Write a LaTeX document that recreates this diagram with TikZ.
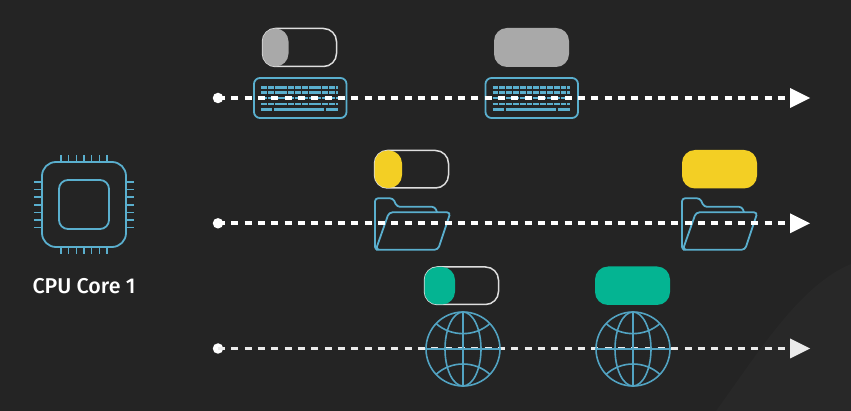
\documentclass[tikz,border=0pt]{standalone}
\usepackage{fontspec}
\setmainfont{Fira Sans}[UprightFont={* Medium}]
\definecolor{bg}{HTML}{242424}
\definecolor{bgl}{HTML}{282828}
\definecolor{ico}{HTML}{5AAFCE}
\definecolor{globec}{HTML}{52A3C2}
\definecolor{grayk}{HTML}{A9A9A9}
\definecolor{yel}{HTML}{F3CF24}
\definecolor{grn}{HTML}{04B492}
\definecolor{rim}{HTML}{DEDEDE}
\tikzset{
  x=1pt,y=-1pt,
  icon/.style={draw=ico,line width=1.8pt,line join=round},
  thinicon/.style={draw=ico,line width=1.6pt},
  globeline/.style={draw=globec,line width=1.6pt},
  timeline/.style={draw=white,line width=3.6pt,dash pattern=on 7pt off 6.33pt},
  startdot/.style={circle,fill=white,inner sep=0pt,minimum size=10.5pt},
  tiptri/.style={fill=white},
  toggle/.style={draw=rim,line width=1.5pt,rounded corners=13pt},
  keyrow/.style={draw=ico,line width=2.7pt},
  pics/keyboard/.style={code={
    \draw[icon,rounded corners=6pt] (0,0) rectangle (92.5,40);
    \foreach \y in {9.7,14.7,20,26}{
      \draw[keyrow,dash pattern=on 5.9pt off 0.9pt] (7,\y) -- (84,\y);}
    \draw[keyrow] (7,31.3) -- (18,31.3) (20,31.3) -- (70,31.3) (72,31.3) -- (84,31.3);
  }},
  pics/folder/.style={code={
    \draw[icon,rounded corners=3pt] (1,51.5) -- (0,51.5) -- (0,0) -- (18,0) -- (22,8.5) -- (60,8.5) -- (62,14);
    \draw[icon,rounded corners=3.5pt] (0.8,51.5) -- (14,14) -- (75.5,14) -- (63,51.5) -- cycle;
  }},
  pics/globe/.style={code={
    \draw[globeline] (0,0) circle[radius=37pt];
    \draw[globeline] (0,0) ellipse[x radius=18pt,y radius=37pt];
    \draw[globeline] (-37,0) -- (37,0) (0,-37) -- (0,37);
    \draw[globeline] (-27,-25.5) .. controls (-12,-12) and (12,-12) .. (27,-25.5);
    \draw[globeline] (-27,25.5) .. controls (-12,11.5) and (12,11.5) .. (27,25.5);
  }},
}
\begin{document}
\begin{tikzpicture}
\useasboundingbox (0,0) rectangle (851,411);
\fill[bg] (0,0) rectangle (851,411);
\fill[bgl] (716,411) .. controls (760,350) and (800,285) .. (851,264) -- (851,411) -- cycle;

% CPU
\draw[icon,rounded corners=14pt] (42,162) rectangle (126,247);
\draw[icon,rounded corners=9pt] (59,180) rectangle (109,229);
\foreach \i in {0,...,6}{
  \draw[thinicon] ({61+7.67*\i},155) -- ({61+7.67*\i},162);
  \draw[thinicon] ({61+7.67*\i},247) -- ({61+7.67*\i},254);
  \draw[thinicon] (34,{182+7.6*\i}) -- (42,{182+7.6*\i});
  \draw[thinicon] (126,{182+7.6*\i}) -- (133.5,{182+7.6*\i});
}
\node[text=white,font=\fontsize{21.4}{24}\selectfont,anchor=center] (cpulabel) at (84,286) {CPU Core 1};

% icons beneath the timelines
\pic at (254,78) {keyboard};
\pic at (485.5,78) {keyboard};
\pic at (375,198.3) {folder};
\pic at (682,198.3) {folder};

% timelines
\node[startdot] (d1) at (218,98) {};
\node[startdot] (d2) at (218,223.3) {};
\node[startdot] (d3) at (218,348.5) {};
\coordinate (e1) at (790,98);
\coordinate (e2) at (790,223.3);
\coordinate (e3) at (790,348.5);
\draw[timeline] (d1.center) -- (e1);
\draw[timeline] (d2.center) -- (e2);
\draw[timeline,draw=white!92!black] (d3.center) -- (e3);
\fill[tiptri] (e1)+(0,-10) -- ++(20,0) -- ++(-20,10) -- cycle;
\fill[tiptri] (e2)+(0,-10) -- ++(20,0) -- ++(-20,10) -- cycle;
\fill[tiptri,white!92!black] (e3)+(0,-10) -- ++(20,0) -- ++(-20,10) -- cycle;

\pic at (463,349) {globe};
\pic at (633,349) {globe};

% toggles: half way
\draw[toggle] (262.5,28.5) rectangle (336.5,66.5);
\fill[grayk,rounded corners=13pt] (262.5,28.5) rectangle (288.5,66.5);
\draw[toggle] (374.5,150.5) rectangle (448.5,188);
\fill[yel,rounded corners=13pt] (374.5,150.5) rectangle (402,188);
\draw[toggle] (424.5,267) rectangle (498.5,304.5);
\fill[grn,rounded corners=13pt] (424.5,267) rectangle (455,304.5);
% toggles: complete
\fill[grayk,rounded corners=13pt] (494,28) rectangle (569,67);
\fill[yel,rounded corners=13pt] (682,150) rectangle (757,188.5);
\fill[grn,rounded corners=13pt] (595,266.5) rectangle (670,305);
\end{tikzpicture}
\end{document}
